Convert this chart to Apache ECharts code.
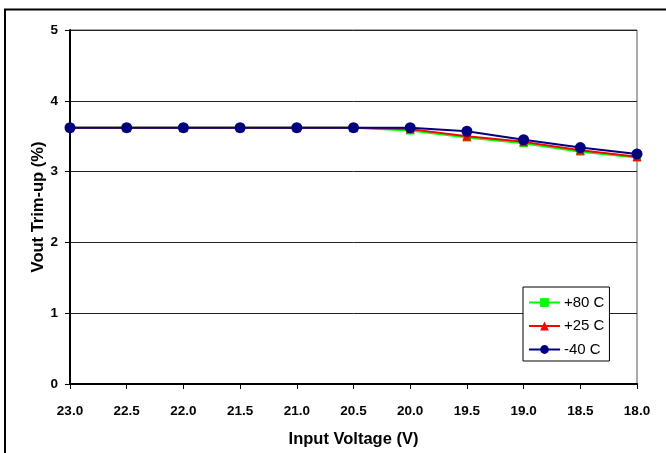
<!DOCTYPE html>
<html><head><meta charset="utf-8">
<script src="https://cdn.jsdelivr.net/npm/echarts@6/dist/echarts.min.js"></script>
<style>html,body{margin:0;padding:0;background:#fff}#c{width:666px;height:453px}</style>
</head><body><div id="c"></div>
<script>
const voltages = [23.0, 22.5, 22.0, 21.5, 21.0, 20.5, 20.0, 19.5, 19.0, 18.5, 18.0];
const t80 = [3.62, 3.62, 3.62, 3.62, 3.62, 3.62, 3.58, 3.48, 3.40, 3.28, 3.20];
const t25 = [3.62, 3.62, 3.62, 3.62, 3.62, 3.62, 3.60, 3.50, 3.42, 3.30, 3.21];
const tm40 = [3.62, 3.62, 3.62, 3.62, 3.62, 3.62, 3.62, 3.57, 3.45, 3.34, 3.25];
const seriesNames = ['+80 C', '+25 C', '-40 C'];

const font = 'Liberation Sans, Arial, sans-serif';
const chart = echarts.init(document.getElementById('c'));
const pair = arr => voltages.map((v, i) => [v, arr[i]]);
chart.setOption({
  animation: false,
  backgroundColor: '#fff',
  graphic: [{type: 'rect', shape: {x: 5, y: 9.5, width: 700, height: 500}, style: {fill: 'none', stroke: '#000', lineWidth: 2}, z: -1}],
  grid: {left: 70, right: 29, top: 30, bottom: 69, show: true, borderColor: '#555', borderWidth: 1},
  legend: {
    orient: 'vertical', left: 523, top: 287, width: 86,
    backgroundColor: '#fff', borderColor: '#000', borderWidth: 1,
    padding: [8, 5, 4, 5], itemGap: 8.5, itemWidth: 31, itemHeight: 11, itemStyle: {},
    textStyle: {fontFamily: font, fontSize: 15, color: '#000', padding: [0, 0, 0, -1]},
    data: seriesNames
  },
  xAxis: {
    type: 'value', min: 18, max: 23, interval: 0.5, inverse: true,
    name: 'Input Voltage (V)', nameLocation: 'middle', nameGap: 47,
    nameTextStyle: {fontFamily: font, fontSize: 16.5, fontWeight: 'bold', color: '#000'},
    axisLine: {onZero: false, lineStyle: {color: '#000', width: 2}},
    axisTick: {show: true, length: 5, lineStyle: {color: '#000', width: 1}},
    axisLabel: {fontFamily: font, fontSize: 13.5, fontWeight: 'bold', color: '#000', margin: 20, formatter: v => v.toFixed(1)},
    splitLine: {show: false}
  },
  yAxis: {
    type: 'value', min: 0, max: 5, interval: 1,
    name: 'Vout Trim-up (%)', nameLocation: 'middle', nameGap: 23, nameMoveOverlap: false,
    nameTextStyle: {fontFamily: font, fontSize: 16.5, fontWeight: 'bold', color: '#000'},
    axisLine: {show: true, lineStyle: {color: '#000', width: 2}},
    axisTick: {show: true, length: 5, lineStyle: {color: '#000', width: 1}},
    axisLabel: {fontFamily: font, fontSize: 13.5, fontWeight: 'bold', color: '#000', margin: 12},
    splitLine: {show: true, lineStyle: {color: '#222', width: 1}}
  },
  series: [
    {name: seriesNames[0], type: 'line', data: pair(t80), symbol: 'rect', symbolSize: 8,
      itemStyle: {color: '#00ff00'}, lineStyle: {color: '#00ff00', width: 2}, z: 2},
    {name: seriesNames[1], type: 'line', data: pair(t25), symbol: 'triangle', symbolSize: 9,
      itemStyle: {color: '#ff0000'}, lineStyle: {color: '#ff0000', width: 2}, z: 3},
    {name: seriesNames[2], type: 'line', data: pair(tm40), symbol: 'circle', symbolSize: 11,
      itemStyle: {color: '#000080'}, lineStyle: {color: '#000080', width: 2}, z: 4}
  ]
});
</script></body></html>
